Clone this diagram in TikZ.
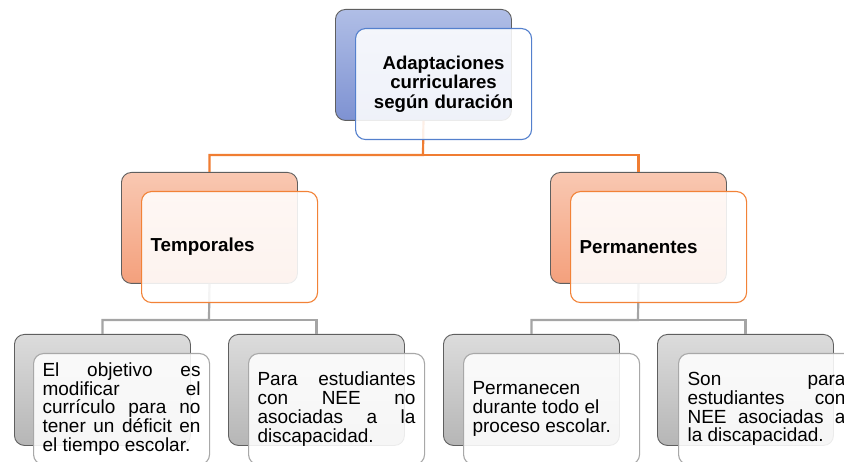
\documentclass[tikz,border=0pt]{standalone}
\usepackage{fontspec}
\setmainfont{Liberation Sans}
\definecolor{bluetop}{RGB}{176,190,230}
\definecolor{bluebot}{RGB}{126,146,210}
\definecolor{blueedge}{RGB}{84,128,205}
\definecolor{orgtop}{RGB}{249,200,178}
\definecolor{orgbot}{RGB}{244,160,124}
\definecolor{orgedge}{RGB}{242,130,55}
\definecolor{orgline}{RGB}{240,125,50}
\definecolor{graytop}{RGB}{220,220,220}
\definecolor{graybot}{RGB}{182,182,182}
\definecolor{grayedge}{RGB}{168,168,168}
\definecolor{grayline}{RGB}{165,165,165}
\definecolor{backedge}{RGB}{95,95,95}
\newcommand\jl[1]{\makebox[158pt][s]{\spaceskip=0pt\relax #1}}
\tikzset{
  boxsize/.style={minimum width=176pt, minimum height=111pt, inner sep=0pt, rounded corners=10pt, anchor=north west},
  backbox/.style={boxsize, draw=backedge, line width=0.9pt},
  bblue/.style={backbox, top color=bluetop, bottom color=bluebot},
  borange/.style={backbox, top color=orgtop, bottom color=orgbot},
  bgray/.style={backbox, top color=graytop, bottom color=graybot},
  frontbox/.style={boxsize, fill=white, fill opacity=0.88, text opacity=1, line width=1.1pt, text width=158pt, inner xsep=9pt},
  fblue/.style={frontbox, draw=blueedge, align=center, font=\fontsize{18.6}{19.5}\selectfont\bfseries},
  forange/.style={frontbox, draw=orgedge, align=left, font=\fontsize{18.8}{19.5}\selectfont\bfseries},
  fgray/.style={frontbox, draw=grayedge, align=justify, font=\fontsize{19}{18.7}\selectfont},
  orgconn/.style={draw=orgline, line width=2.2pt},
  grayconn/.style={draw=grayline, line width=2.2pt},
}
\begin{document}
\begin{tikzpicture}[x=1pt,y=-1pt]
\useasboundingbox (0,0) rectangle (844,462);
\clip (0,0) rectangle (844,462);
% back boxes
\node[bblue] (rootb) at (335,9) {};
\node[borange] (tempb) at (121,172) {};
\node[borange] (permb) at (550,172) {};
\node[bgray] (l1b) at (14,334) {};
\node[bgray] (l2b) at (228,334) {};
\node[bgray] (l3b) at (443,334) {};
\node[bgray] (l4b) at (657,334) {};
% connectors
\coordinate (j1) at (423,155);
\coordinate (j2) at (209,320);
\coordinate (j3) at (638,320);
\draw[orgconn] (rootb.south) -- (j1) -| (tempb.north);
\draw[orgconn] (j1) -| (permb.north);
\draw[grayconn] (tempb.south) -- (j2) -| (l1b.north);
\draw[grayconn] (j2) -| (l2b.north);
\draw[grayconn] (permb.south) -- (j3) -| (l3b.north);
\draw[grayconn] (j3) -| (l4b.north);
% front boxes
\node[fblue] (root) at (355,28) {\spaceskip=0pt\relax Adaptaciones\\curriculares\\según duración};
\node[forange] (temp) at (141,191) {Temporales};
\node[forange] (perm) at (570,191) {Permanentes};
\node[fgray] (l1) at (33,353) {\jl{El objetivo es}\\\jl{modificar el}\\\jl{currículo para no}\\\jl{tener un déficit en}\\el tiempo escolar.};
\node[fgray] (l2) at (248,353) {\jl{Para estudiantes}\\\jl{con NEE no}\\\jl{asociadas a la}\\discapacidad.};
\node[fgray] (l3) at (463,353) {Permanecen\\durante todo el\\proceso escolar.};
\node[fgray] (l4) at (678,353) {\jl{Son para}\\\jl{estudiantes con}\\\jl{NEE asociadas a}\\la discapacidad.};
\end{tikzpicture}
\end{document}
